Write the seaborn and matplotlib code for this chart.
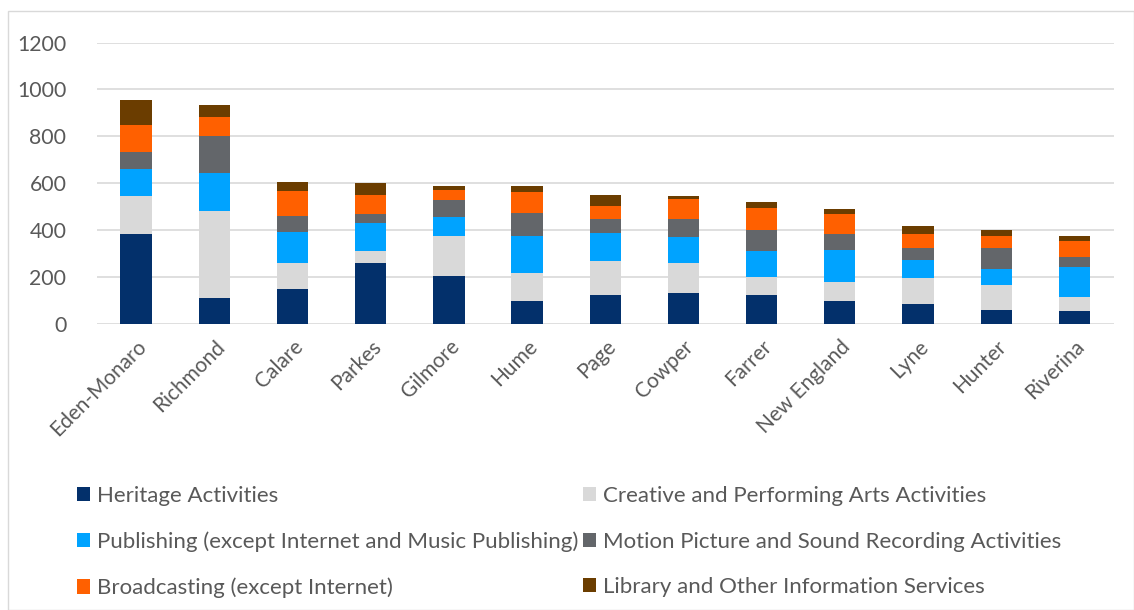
import matplotlib
matplotlib.use("Agg")
import matplotlib.pyplot as plt
import seaborn as sns
import pandas as pd
import numpy as np
from matplotlib.patches import Patch, Rectangle

electorates = ["Eden-Monaro", "Richmond", "Calare", "Parkes", "Gilmore", "Hume", "Page",
               "Cowper", "Farrer", "New England", "Lyne", "Hunter", "Riverina"]
heritage = [384, 109, 148, 259, 205, 96, 125, 130, 122, 99, 85, 58, 55]
creative = [160, 371, 114, 54, 172, 122, 144, 129, 78, 80, 112, 109, 60]
publishing = [118, 162, 131, 118, 78, 159, 118, 112, 113, 136, 77, 68, 127]
motion = [71, 158, 66, 36, 75, 96, 59, 78, 88, 67, 51, 90, 43]
broadcasting = [117, 81, 109, 81, 42, 88, 55, 82, 95, 86, 59, 52, 68]
library = [106, 52, 38, 51, 16, 27, 51, 13, 22, 24, 34, 25, 20]

series_names = ["Heritage Activities", "Creative and Performing Arts Activities",
                "Publishing (except Internet and Music Publishing)",
                "Motion Picture and Sound Recording Activities",
                "Broadcasting (except Internet)", "Library and Other Information Services"]
series_values = [heritage, creative, publishing, motion, broadcasting, library]
colors = ["#03306B", "#D9D9D9", "#00A3FF", "#63666A", "#FF6000", "#6B3D00"]
y_ticks = [0, 200, 400, 600, 800, 1000, 1200]

sns.set_theme(style="white")
plt.rcParams["font.family"] = ["Lato", "DejaVu Sans"]

fig = plt.figure(figsize=(11.34, 6.10), dpi=100)
ax = fig.add_axes([97 / 1134, 0.4689, (1113.5 - 97) / 1134, 0.4614])

cum = np.cumsum(np.array(series_values), axis=0)
for i in range(len(series_names) - 1, -1, -1):
    df = pd.DataFrame({"electorate": electorates, "value": cum[i]})
    sns.barplot(data=df, x="electorate", y="value", color=colors[i], width=0.4,
                saturation=1, ax=ax, edgecolor="none", zorder=3)

ax.set_xlim(-0.5, len(electorates) - 0.5)
ax.set_ylim(0, 1200)
ax.set_yticks(y_ticks)
ax.set_yticklabels([str(t) for t in y_ticks], fontsize=15.3, color="#595959")
ax.set_xticks(range(len(electorates)))
ax.set_xticklabels(electorates, rotation=45, ha="right", rotation_mode="anchor",
                   fontsize=15, color="#595959")
ax.tick_params(axis="x", length=0, pad=9)
ax.tick_params(axis="y", length=0, pad=22)
ax.set_xlabel("")
ax.set_ylabel("")
for s in ax.spines.values():
    s.set_visible(False)
ax.yaxis.grid(True, color="#D9D9D9", linewidth=1.2, zorder=0)
ax.set_axisbelow(True)

handles = [Patch(facecolor=c, edgecolor="none") for c in colors]
order = [0, 2, 4, 1, 3, 5]
fig.legend([handles[i] for i in order], [series_names[i] for i in order],
           loc="upper left", bbox_to_anchor=(77 / 1134, 1 - 486 / 610), ncol=2,
           frameon=False, fontsize=16, handlelength=0.6, handleheight=0.6,
           handletextpad=0.3, columnspacing=0.2, labelspacing=1.15, borderpad=0,
           borderaxespad=0, labelcolor="#595959")

fig.patches.append(Rectangle((8 / 1134, 0), 1 - 8 / 1134, 1 - 11 / 610,
                             transform=fig.transFigure, fill=False,
                             edgecolor="#D9D9D9", linewidth=1))

fig.savefig("out.png", dpi=100, facecolor="white")
